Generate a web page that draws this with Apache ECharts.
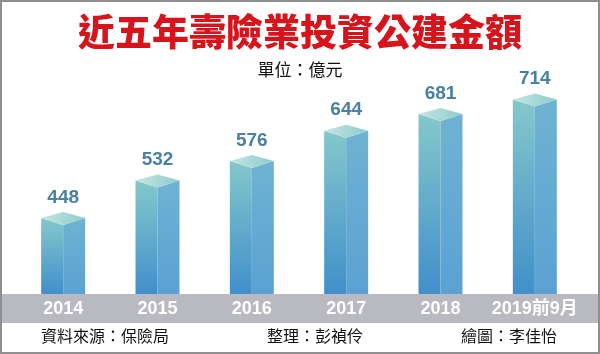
<!DOCTYPE html>
<html>
<head>
<meta charset="utf-8">
<script src="https://cdn.jsdelivr.net/npm/echarts@6/dist/echarts.min.js"></script>
<style>html,body{margin:0;padding:0;background:#fff}#c{width:600px;height:354px}</style>
</head>
<body>
<div id="c"></div>
<script>
const categories = ['2014', '2015', '2016', '2017', '2018', '2019前9月'];
const values = [448, 532, 576, 644, 681, 714];
const titleText = '近五年壽險業投資公建金額';
const unitText = '單位：億元';
const footerTexts = ['資料來源：保險局', '整理：彭禎伶', '繪圖：李佳怡'];

const chart = echarts.init(document.getElementById('c'), null, {renderer: 'canvas'});
const CJK = '"Noto Sans CJK TC", "Noto Sans CJK SC", sans-serif';
const NUM = '"Liberation Sans", Arial, "Noto Sans CJK TC", sans-serif';
const G = echarts.graphic;

function renderItem(params, api) {
  const top = api.coord([api.value(0), api.value(1)]);
  const base = api.coord([api.value(0), 278]);
  const cx = top[0], y = top[1], by = base[1];
  const hw = 22, up = 6, dn = 7;
  return {
    type: 'group',
    children: [
      {type: 'polygon', shape: {points: [[cx - hw, y], [cx, y + dn], [cx, by], [cx - hw, by]]},
        style: {fill: new G.LinearGradient(0, 0, 0, 1, [{offset: 0, color: '#84c8cb'}, {offset: 1, color: '#418fcb'}])}},
      {type: 'polygon', shape: {points: [[cx, y + dn], [cx + hw, y], [cx + hw, by], [cx, by]]},
        style: {fill: new G.LinearGradient(0, 0, 0, 1, [{offset: 0, color: '#6fb2d2'}, {offset: 1, color: '#5aa2d3'}])}},
      {type: 'polygon', shape: {points: [[cx - hw, y], [cx, y - up], [cx + hw, y], [cx, y + dn]]},
        style: {fill: new G.LinearGradient(0, 0, 1, 0, [{offset: 0, color: '#c4e6e2'}, {offset: 1, color: '#8ccccc'}])}},
      {type: 'text', x: cx, y: y - up - 5,
        style: {text: String(api.value(1)), align: 'center', verticalAlign: 'bottom',
          fill: '#4a80a3', font: 'bold 19px ' + NUM}}
    ]
  };
}

chart.setOption({
  backgroundColor: '#fff',
  animation: false,
  grid: {left: 16, right: 18, top: 61, bottom: 60},
  xAxis: {
    type: 'category', data: categories,
    axisLine: {show: false}, axisTick: {show: false},
    axisLabel: {interval: 0, color: '#fff', fontSize: 18, fontWeight: 'bold', fontFamily: NUM, margin: 6}
  },
  yAxis: {type: 'value', min: 278, max: 800, show: false, splitLine: {show: false}},
  graphic: [
    {type: 'rect', z: -1, shape: {x: 1, y: 294, width: 598, height: 29}, style: {fill: '#b9b9c1'}},
    {type: 'rect', z: 100, shape: {x: 1, y: 1, width: 598, height: 352}, style: {fill: 'none', stroke: '#8f8f8f', lineWidth: 2}},
    {type: 'text', left: 'center', top: 13, style: {text: titleText, fill: '#d7141c', font: '900 37px ' + CJK}},
    {type: 'text', left: 'center', top: 61, style: {text: unitText, fill: '#111', font: '17px ' + CJK}},
    {type: 'text', left: 41, top: 328, style: {text: footerTexts[0], fill: '#111', font: '16px ' + CJK}},
    {type: 'text', left: 267, top: 328, style: {text: footerTexts[1], fill: '#111', font: '16px ' + CJK}},
    {type: 'text', left: 461, top: 328, style: {text: footerTexts[2], fill: '#111', font: '16px ' + CJK}}
  ],
  series: [{
    type: 'custom',
    renderItem: renderItem,
    data: categories.map((c, i) => [i, values[i]])
  }]
});
</script>
</body>
</html>
